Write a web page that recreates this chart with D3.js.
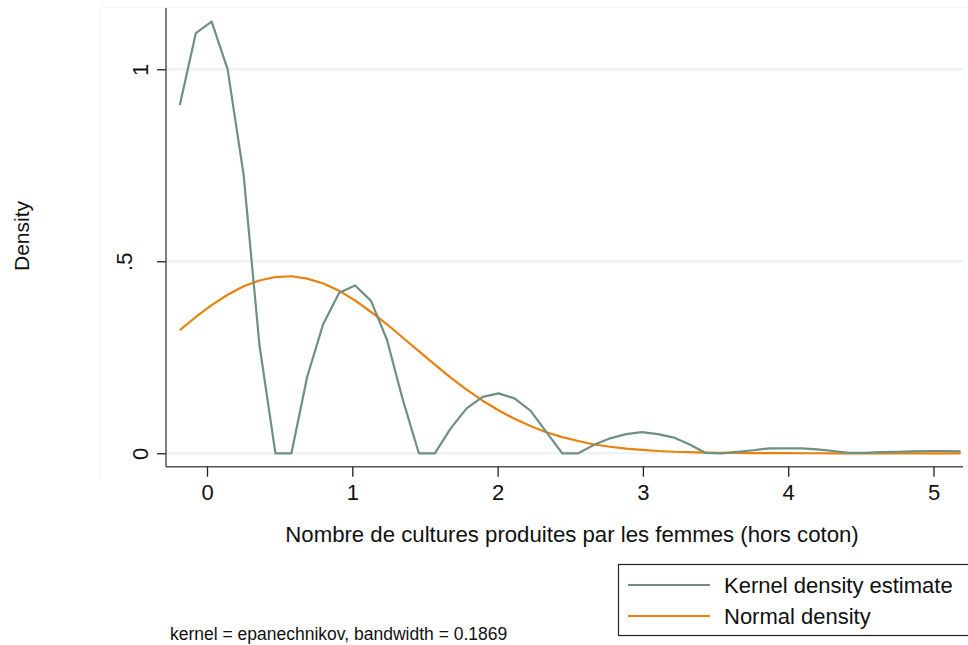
<!DOCTYPE html>
<html>
<head>
<meta charset="utf-8">
<script src="https://cdn.jsdelivr.net/npm/d3@7"></script>
<style>
  html, body { margin: 0; padding: 0; background: #fff; }
  svg { display: block; font-family: Arial, "Liberation Sans", sans-serif; }
</style>
</head>
<body>
<svg id="chart" width="968" height="645"></svg>
<script>
// ---- data ----
const gridX = [-0.187,-0.077,0.032,0.142,0.252,0.361,0.471,0.581,0.690,0.800,
  0.910,1.019,1.129,1.239,1.348,1.458,1.568,1.677,1.787,1.897,
  2.006,2.116,2.226,2.335,2.445,2.555,2.664,2.774,2.884,2.993,
  3.103,3.213,3.322,3.432,3.542,3.651,3.761,3.871,3.980,4.090,
  4.200,4.309,4.419,4.529,4.638,4.748,4.858,4.967,5.077,5.187];
const kernelDensity = [0.907,1.094,1.124,1.000,0.725,0.282,0,0,0.200,0.337,
  0.418,0.437,0.397,0.295,0.139,0,0,0.065,0.117,0.147,
  0.156,0.143,0.111,0.056,0,0,0.022,0.039,0.050,0.055,
  0.050,0.041,0.023,0.001,0,0.004,0.008,0.013,0.013,0.013,
  0.010,0.006,0.001,0.001,0.003,0.004,0.005,0.006,0.006,0.005];
const normalDensity = [0.321,0.355,0.386,0.413,0.435,0.450,0.459,0.461,0.455,0.442,
  0.423,0.398,0.368,0.336,0.301,0.266,0.231,0.197,0.166,0.137,
  0.112,0.090,0.071,0.055,0.042,0.032,0.023,0.017,0.012,0.009,
  0.006,0.004,0.003,0.002,0.001,0.001,0.0005,0.0003,0.0002,0.0001,
  0.0001,0,0,0,0,0,0,0,0,0];
const xTicks = [0,1,2,3,4,5];
const yTicks = [0,0.5,1];
const yTickLabels = ["0",".5","1"];
const seriesNames = ["Kernel density estimate","Normal density"];
const xTitle = "Nombre de cultures produites par les femmes (hors coton)";
const yTitle = "Density";
const note = "kernel = epanechnikov, bandwidth = 0.1869";

// ---- layout ----
const svg = d3.select("#chart");
const x = d3.scaleLinear().domain([0,5]).range([207,933.5]);
const y = d3.scaleLinear().domain([0,1]).range([453.3,69.3]);
const axisLeftX = 166, axisBottomY = 466.7, plotRight = 963, plotTop = 8;
const colK = "#6f8f82", colN = "#e8820c";

// faint outer region outline (left and top edges only)
svg.append("path").attr("d","M100.5,480V7.5H968")
  .attr("fill","none").attr("stroke","#f3f6f7").attr("stroke-width",1);

// gridlines
svg.append("g").selectAll("line").data(yTicks).join("line")
  .attr("x1",axisLeftX).attr("x2",plotRight)
  .attr("y1",d=>y(d)).attr("y2",d=>y(d))
  .attr("stroke","#eaf2f3").attr("stroke-width",2);

// axes
const gx = svg.append("g").attr("transform",`translate(0,${axisBottomY})`)
  .call(d3.axisBottom(x).tickValues(xTicks).tickFormat(d3.format("d")).tickSize(10).tickPadding(8));
gx.select(".domain").attr("d",`M${axisLeftX},0H${plotRight}`).attr("stroke","#555").attr("stroke-width",1.5);
gx.selectAll(".tick line").attr("stroke","#222").attr("stroke-width",1.3);
gx.selectAll(".tick text").attr("font-size",22).attr("fill","#111").attr("font-family","Arial, 'Liberation Sans', sans-serif");

const gy = svg.append("g").attr("transform",`translate(${axisLeftX},0)`)
  .call(d3.axisLeft(y).tickValues(yTicks).tickFormat((d,i)=>yTickLabels[i]).tickSize(9));
gy.select(".domain").attr("d",`M0,${plotTop}V${axisBottomY}`).attr("stroke","#555").attr("stroke-width",1.5);
gy.selectAll(".tick line").attr("stroke","#222").attr("stroke-width",1.3);
gy.selectAll(".tick text")
  .attr("font-size",22).attr("fill","#111").attr("font-family","Arial, 'Liberation Sans', sans-serif")
  .attr("text-anchor","middle").attr("dy",null).attr("x",null)
  .attr("transform",(d)=> `translate(${d===0.5 ? -34.5 : -18},0) rotate(-90)`)
  .attr("y",0);

// curves
const line = d3.line().x((d,i)=>x(gridX[i])).y(d=>y(d));
svg.append("path").datum(normalDensity).attr("d",line)
  .attr("fill","none").attr("stroke",colN).attr("stroke-width",2.2).attr("stroke-linejoin","round");
svg.append("path").datum(kernelDensity).attr("d",line)
  .attr("fill","none").attr("stroke",colK).attr("stroke-width",2.2).attr("stroke-linejoin","round");

// titles
svg.append("text").attr("x",572).attr("y",542).attr("text-anchor","middle")
  .attr("font-size",22.2).attr("fill","#111").text(xTitle);
svg.append("text").attr("transform","translate(29,236) rotate(-90)").attr("text-anchor","middle")
  .attr("font-size",21).attr("fill","#111").text(yTitle);

// legend
const lg = svg.append("g");
lg.append("rect").attr("x",618.5).attr("y",564.5).attr("width",380).attr("height",71)
  .attr("fill","#fff").attr("stroke","#222").attr("stroke-width",1.2);
const rows = [{name:seriesNames[0],c:colK,y:585},{name:seriesNames[1],c:colN,y:616}];
rows.forEach(r=>{
  lg.append("line").attr("x1",628).attr("x2",710).attr("y1",r.y).attr("y2",r.y)
    .attr("stroke",r.c).attr("stroke-width",2.2);
  lg.append("text").attr("x",724).attr("y",r.y+8).attr("font-size",22).attr("fill","#111").text(r.name);
});

// note
svg.append("text").attr("x",170).attr("y",640).attr("font-size",17.5).attr("fill","#111").text(note);
</script>
</body>
</html>
